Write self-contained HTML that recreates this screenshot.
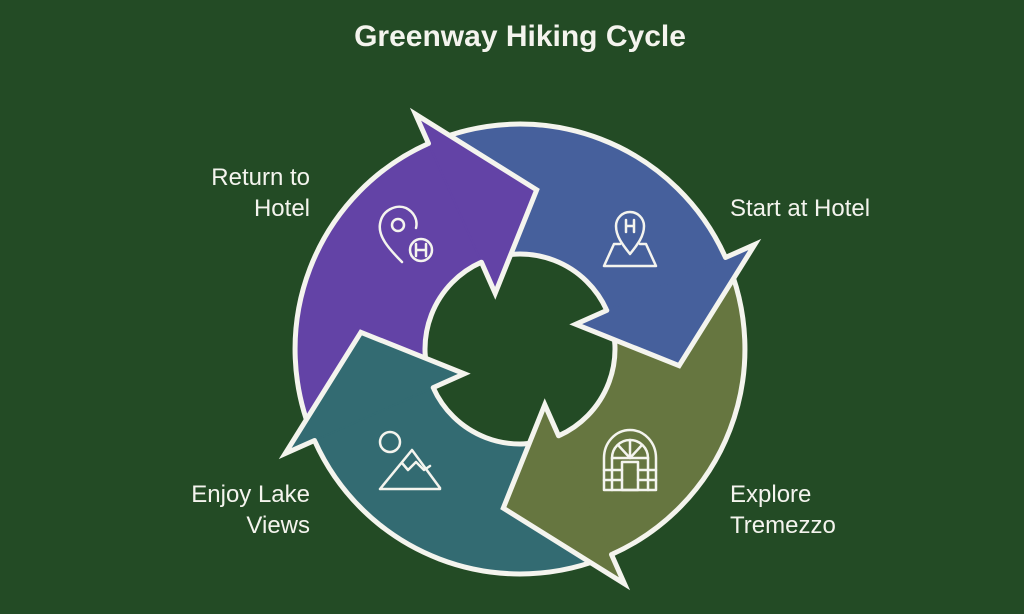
<!DOCTYPE html>
<html><head><meta charset="utf-8"><style>
html,body{margin:0;padding:0;background:#234b25;}
.wrap{position:relative;width:1024px;height:614px;overflow:hidden;background:#234b25;font-family:"Liberation Sans",sans-serif;color:#f4f4ee;}
.t{position:absolute;font-size:24px;line-height:31px;white-space:nowrap;}
.r{text-align:right;}
h1{position:absolute;left:0;width:1040px;top:20px;margin:0;text-align:center;font-size:30px;font-weight:bold;color:#f4f4ee;}
svg{position:absolute;left:0;top:0;}
</style></head><body><div class="wrap">
<h1>Greenway Hiking Cycle</h1>
<svg id="s" width="1024" height="614" viewBox="0 0 1024 614"></svg>
<div class="t r" style="right:714px;top:162px;">Return to<br>Hotel</div>
<div class="t" style="left:730px;top:193px;">Start at Hotel</div>
<div class="t" style="left:730px;top:479px;">Explore<br>Tremezzo</div>
<div class="t r" style="right:714px;top:479px;">Enjoy Lake<br>Views</div>
<script>
var cx=520,cy=349,R=225,r=95,M=160,WO=257,WI=61;
function p(a,rad){a=a*Math.PI/180;return (cx+rad*Math.cos(a)).toFixed(1)+","+(cy+rad*Math.sin(a)).toFixed(1);}
var arrows=[[246,276,"#6343a6"],[336,366,"#46609c"],[66,96,"#667640"],[156,186,"#336b72"]];
var W='stroke="#f4f4ee" stroke-width="5" stroke-linejoin="miter" stroke-linecap="round"';
var bodies="",arcs="",heads="";
arrows.forEach(function(a){
 var e=a[0],tip=a[1],col=a[2],s=e-90;
 bodies+='<path d="M'+p(s,R)+' A'+R+','+R+' 0 0 1 '+p(e+2,R)+' L'+p(e+2,r)+' A'+r+','+r+' 0 0 0 '+p(s,r)+' Z" fill="'+col+'"/>';
 arcs+='<path d="M'+p(s,R)+' A'+R+','+R+' 0 0 1 '+p(e,R)+' M'+p(e,r)+' A'+r+','+r+' 0 0 0 '+p(s,r)+'" fill="none" '+W+'/>';
 var hd='M'+p(e,R)+' L'+p(e,WO)+' L'+p(tip,M)+' L'+p(e,WI)+' L'+p(e,r);
 heads+='<path d="'+hd+' Z" fill="'+col+'" stroke="'+col+'" stroke-width="2"/>';
 heads+='<path d="'+hd+'" fill="none" '+W+'/>';
});
var h=bodies+arcs+heads;
var st='fill="none" stroke="#f4f4ee" stroke-width="2.5" stroke-linecap="round" stroke-linejoin="round"';
h+='<g '+st+'><path d="M402,262 C388,248 378,236 380,224 C382,210 396,204 406,208 C414,212 418,220 416,228"/><circle cx="398" cy="225" r="6"/><circle cx="421" cy="250" r="11"/><path d="M416,244 v12 M426,244 v12 M416,250 h10"/></g>';
h+='<g '+st+'><path d="M630,254 C622,244 616,236 616,226 A14,14 0 0 1 644,226 C644,236 638,244 630,254 Z"/><path d="M626,220 v12 M634,220 v12 M626,226 h8"/><path d="M620,244 h-6 l-10,22 h52 l-10,-22 h-6"/></g>';
h+='<g '+st+'><path d="M604,490 V458 A26,28 0 0 1 656,458 V490 Z"/><path d="M612,458 A18,18 0 0 1 648,458 Z"/><path d="M630,440 V458 M618,445 L630,458 M642,445 L630,458"/><path d="M622,462 h16 v28 h-16 Z"/><path d="M604,470 h18 M604,480 h18 M638,470 h18 M638,480 h18 M612,458 v32 M648,458 v32"/></g>';
h+='<g '+st+'><circle cx="390" cy="442" r="10"/><path d="M380,489 L412,450 L440,488 M380,489 H440"/><path d="M402,463 L408,470 L416,462 L424,470 L430,466"/></g>';
document.getElementById("s").innerHTML=h;
</script>
</div></body></html>
